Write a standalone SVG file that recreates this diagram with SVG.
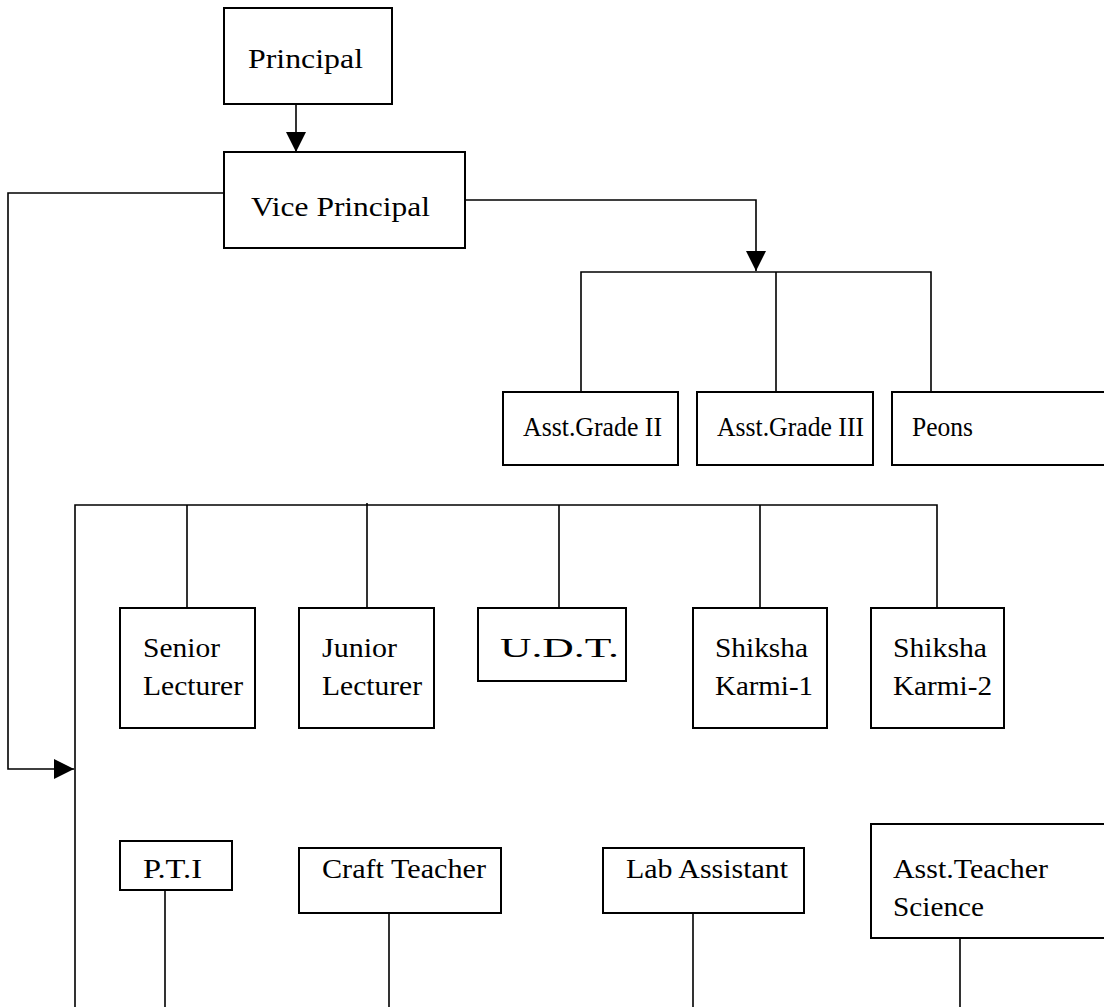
<svg xmlns="http://www.w3.org/2000/svg" width="1104" height="1007" viewBox="0 0 1104 1007">
<style>
.box{fill:#fff;stroke:#000;stroke-width:2}
.ln{fill:none;stroke:#000;stroke-width:1.6}
text{font-family:"Liberation Serif","Times New Roman",serif;font-size:28px;fill:#000}
</style>
<defs>
<marker id="ah" viewBox="0 0 20 20" refX="20" refY="10" markerWidth="20" markerHeight="20" markerUnits="userSpaceOnUse" orient="auto">
<path d="M0,0 L20,10 L0,20 Z" fill="#000"/>
</marker>
</defs>
<rect width="1104" height="1007" fill="#fff"/>
<g id="connectors">
<path class="ln" d="M296,104 V152" marker-end="url(#ah)"/>
<path class="ln" d="M465,200 H756 V271" marker-end="url(#ah)"/>
<path class="ln" d="M581,392 V272 H931 V392 M776,272 V392"/>
<path class="ln" d="M224,193 H8 V769 H74" marker-end="url(#ah)"/>
<path class="ln" d="M75,1007 V505 H937 V608 M187,505 V608 M367,503 V608 M559,505 V608 M760,505 V608"/>
<path class="ln" d="M165,890 V1007 M389,913 V1007 M693,913 V1007 M960,938 V1007"/>
</g>
<g id="principal"><rect class="box" x="224" y="8" width="168" height="96"/><text x="248" y="68" textLength="115" lengthAdjust="spacingAndGlyphs">Principal</text></g>
<g id="vice-principal"><rect class="box" x="224" y="152" width="241" height="96"/><text x="251" y="216" textLength="179" lengthAdjust="spacingAndGlyphs">Vice Principal</text></g>
<g id="asst-grade-2"><rect class="box" x="503" y="392" width="175" height="73"/><text x="523" y="436" textLength="139" lengthAdjust="spacingAndGlyphs">Asst.Grade II</text></g>
<g id="asst-grade-3"><rect class="box" x="697" y="392" width="176" height="73"/><text x="717" y="436" textLength="147" lengthAdjust="spacingAndGlyphs">Asst.Grade III</text></g>
<g id="peons"><rect class="box" x="892" y="392" width="220" height="73"/><text x="912" y="436" textLength="61" lengthAdjust="spacingAndGlyphs">Peons</text></g>
<g id="senior-lecturer"><rect class="box" x="120" y="608" width="135" height="120"/><text x="143" y="657" textLength="77" lengthAdjust="spacingAndGlyphs">Senior</text><text x="143" y="695" textLength="100" lengthAdjust="spacingAndGlyphs">Lecturer</text></g>
<g id="junior-lecturer"><rect class="box" x="299" y="608" width="135" height="120"/><text x="322" y="657" textLength="75" lengthAdjust="spacingAndGlyphs">Junior</text><text x="322" y="695" textLength="100" lengthAdjust="spacingAndGlyphs">Lecturer</text></g>
<g id="udt"><rect class="box" x="478" y="608" width="148" height="73"/><text x="500" y="657" textLength="119" lengthAdjust="spacingAndGlyphs">U.D.T.</text></g>
<g id="shiksha-karmi-1"><rect class="box" x="693" y="608" width="134" height="120"/><text x="715" y="657" textLength="93" lengthAdjust="spacingAndGlyphs">Shiksha</text><text x="715" y="695" textLength="98" lengthAdjust="spacingAndGlyphs">Karmi-1</text></g>
<g id="shiksha-karmi-2"><rect class="box" x="871" y="608" width="133" height="120"/><text x="893" y="657" textLength="94" lengthAdjust="spacingAndGlyphs">Shiksha</text><text x="893" y="695" textLength="99" lengthAdjust="spacingAndGlyphs">Karmi-2</text></g>
<g id="pti"><rect class="box" x="120" y="841" width="112" height="49"/><text x="143" y="878" textLength="59" lengthAdjust="spacingAndGlyphs">P.T.I</text></g>
<g id="craft-teacher"><rect class="box" x="299" y="848" width="202" height="65"/><text x="322" y="878" textLength="164" lengthAdjust="spacingAndGlyphs">Craft Teacher</text></g>
<g id="lab-assistant"><rect class="box" x="603" y="848" width="201" height="65"/><text x="626" y="878" textLength="162" lengthAdjust="spacingAndGlyphs">Lab Assistant</text></g>
<g id="asst-teacher-science"><rect class="box" x="871" y="824" width="240" height="114"/><text x="893" y="878" textLength="155" lengthAdjust="spacingAndGlyphs">Asst.Teacher</text><text x="893" y="916" textLength="91" lengthAdjust="spacingAndGlyphs">Science</text></g>
</svg>
